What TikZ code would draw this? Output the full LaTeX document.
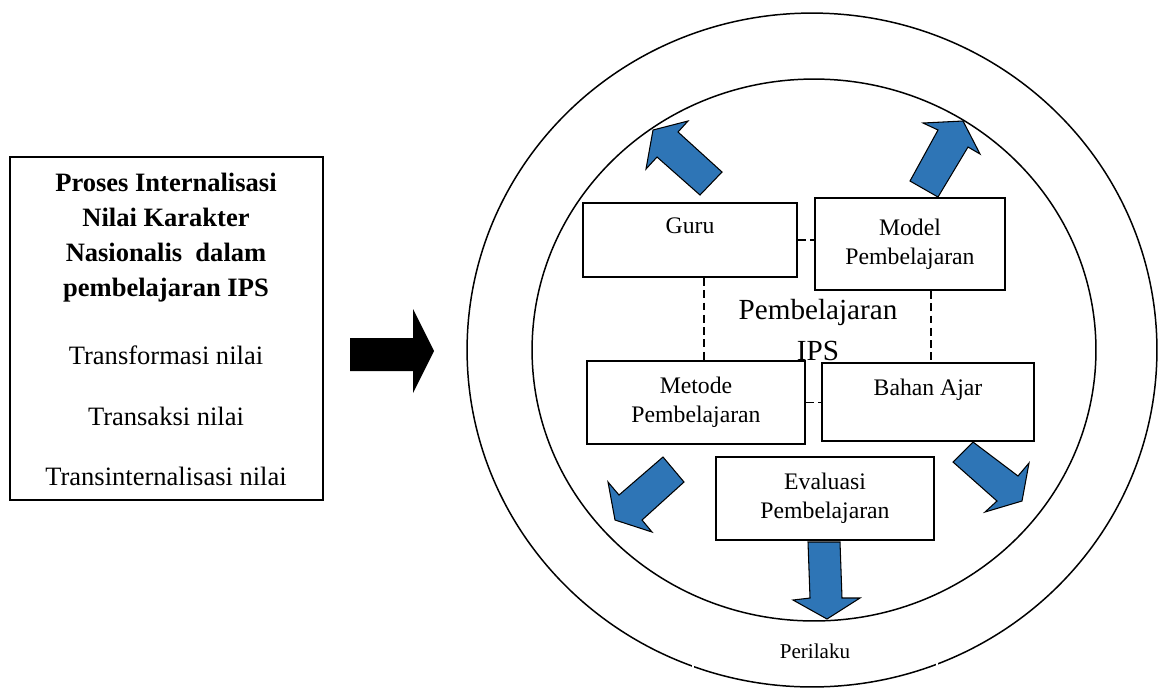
\documentclass[tikz,border=0pt]{standalone}
\usepackage{fontspec}
\setmainfont{Liberation Serif}
\definecolor{arrowblue}{RGB}{46,117,182}

\begin{document}
\begin{tikzpicture}[x=0.02cm, y=-0.02cm,
    every node/.style={align=center},
    part/.style={draw, line width=1.1pt, inner sep=0pt, font=\fontsize{13.5}{16.5}\selectfont},
    link/.style={line width=1.1pt, dash pattern=on 4.5pt off 2.5pt},
    blockarrow/.style={fill=arrowblue, draw=black, line width=0.6pt, line join=miter}
]
\useasboundingbox (0,0) rectangle (1158,691);

% left box
\node[draw, line width=0.8pt, minimum width=6.26cm, minimum height=6.86cm] (procbox) at (166.5,328.5) {};
\node[font=\fontsize{15.1}{19.9}\selectfont\bfseries] (title) at (166,238) {Proses Internalisasi\\Nilai Karakter\\Nasionalis\ \ dalam\\pembelajaran IPS};
\node[font=\fontsize{15.1}{18}\selectfont] (trf) at (166,355) {Transformasi nilai};
\node[font=\fontsize{15.1}{18}\selectfont] (trs) at (166,416) {Transaksi nilai};
\node[font=\fontsize{15.1}{18}\selectfont] (trn) at (166,476) {Transinternalisasi nilai};

% black arrow
\fill (350,338) -- (413,338) -- (413,309) -- (434,351) -- (413,393) -- (413,371) -- (350,371) -- cycle;

% circles
\draw[line width=0.85pt] (812,350) ellipse [x radius=6.9cm, y radius=6.74cm];
\draw[line width=0.85pt] (814,350) ellipse [x radius=5.64cm, y radius=5.42cm];
\node[draw=white, line width=1.5pt, minimum width=4.88cm, text height=0.4cm, text depth=1cm, anchor=base, font=\fontsize{12}{14}\selectfont] (perilaku) at (815,658) {Perilaku};

% components
\node[font=\fontsize{16.6}{22.8}\selectfont] (ips) at (818,330) {Pembelajaran\\IPS};
\node[part, minimum width=4.28cm, minimum height=1.48cm] (guru) at (690,240) {Guru\\~};
\node[part, minimum width=3.8cm, minimum height=1.84cm] (model) at (910,244) {Model\\Pembelajaran};
\node[part, minimum width=4.36cm, minimum height=1.66cm] (metode) at (696,402.5) {Metode\\Pembelajaran};
\node[part, minimum width=4.24cm, minimum height=1.56cm] (bahan) at (928,402) {Bahan Ajar\\~};
\node[part, minimum width=4.36cm, minimum height=1.66cm] (evaluasi) at (825,498.5) {Evaluasi\\Pembelajaran};

\draw[link] (guru.east) -- (guru.east -| model.west);
\draw[link] (guru.south -| 704,0) -- (metode.north -| 704,0);
\draw[link] (model.south -| 931,0) -- (bahan.north -| 931,0);
\draw[link] (metode.east) -- (metode.east -| bahan.west);

% blue arrows
\draw[blockarrow] (700,195) -- (657,157) -- (646,169) -- (653,130) -- (688,121) -- (678,132) -- (722,172) -- cycle;
\draw[blockarrow] (910,181) -- (938,130) -- (923,123) -- (963,121) -- (980,154) -- (968,147) -- (938,197) -- cycle;
\draw[blockarrow] (663,457) -- (619,495) -- (608,482) -- (615,520) -- (652,532) -- (642,520) -- (684,482) -- cycle;
\draw[blockarrow] (953,462) -- (973,442) -- (1018,476) -- (1029,463) -- (1022,501) -- (985,512) -- (997,501) -- cycle;
\draw[blockarrow] (808,542) -- (840,542) -- (842,598) -- (860,598) -- (827,619) -- (793,600) -- (810,598) -- cycle;
\end{tikzpicture}
\end{document}
